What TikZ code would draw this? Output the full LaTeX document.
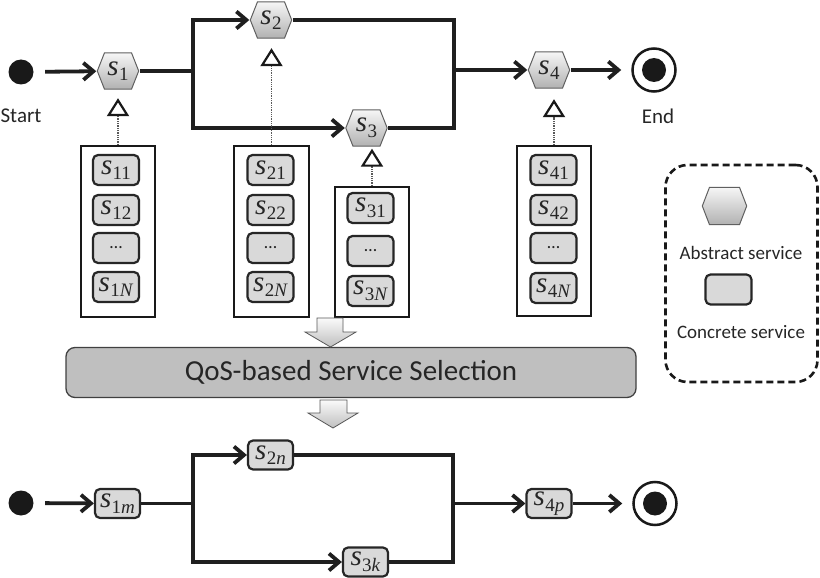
\documentclass[tikz,border=0pt]{standalone}
\usepackage{fontspec}
\setmainfont{Carlito}
\newfontfamily\svfont{Liberation Serif}
\usetikzlibrary{arrows.meta,calc}
\newcommand\sv[2]{{\svfont\fontsize{29}{30}\selectfont\itshape s}\kern0.3pt\raisebox{-5.5pt}{\svfont\fontsize{19}{20}\selectfont #1\textit{#2}}}
\begin{document}
\begin{tikzpicture}[x=1pt,y=-1pt,
  conn/.style={line width=3.8pt, draw=black!88},
  tip/.style={-{Straight Barb[length=10pt,width=17pt]}},
  genl/.style={densely dotted, line width=1.3pt, draw=black!65,
    -{Triangle[open,length=18pt,width=22pt,line width=2.2pt,color=black!90]}},
  hexa/.style={rectangle, inner sep=0pt, minimum width=43pt, minimum height=38pt,
    text=black!85,
    path picture={
      \path[top color=gray!6, bottom color=gray!62, draw=gray!75!black, line width=1pt]
        ([xshift=0.8pt]path picture bounding box.west)
        -- ([xshift=8pt,yshift=-0.8pt]path picture bounding box.north west)
        -- ([xshift=-8pt,yshift=-0.8pt]path picture bounding box.north east)
        -- ([xshift=-0.8pt]path picture bounding box.east)
        -- ([xshift=-8pt,yshift=0.8pt]path picture bounding box.south east)
        -- ([xshift=8pt,yshift=0.8pt]path picture bounding box.south west)
        -- cycle;}},
  cbox/.style={rectangle, rounded corners=5pt, fill=gray!30, draw=black!85,
    line width=2.2pt, minimum width=46pt, minimum height=30pt, inner sep=0pt,
    text=black!85},
  dots/.style={font=\fontsize{18}{20}\selectfont},
  lbox/.style={rectangle, draw=black!90, line width=2pt, fill=white, inner sep=0pt},
  dot/.style={circle, fill=black!90, minimum size=25pt, inner sep=0pt},
  endo/.style={circle, draw=black!90, fill=white, line width=2.5pt, minimum size=43pt, inner sep=0pt},
  lbl/.style={font=\fontsize{21}{24}\selectfont, text=black!85, inner sep=0pt},
  legtxt/.style={font=\fontsize{19}{22}\selectfont, text=black!85, inner sep=0pt},
  blockarrow/.style={top color=gray!4, bottom color=gray!50, draw=gray!70!black, line width=0.8pt},
]
\useasboundingbox (0,0) rectangle (820,578);

% ---------- top workflow ----------
\node[dot] (st) at (21,72) {};
\node[lbl] (stlbl) at (21,116) {Start};
\node[hexa] (s1) at (118,71) {\sv{1}{}};
\node[hexa] (s2) at (271,20) {\sv{2}{}};
\node[hexa] (s3) at (366.5,128) {\sv{3}{}};
\node[hexa] (s4) at (549,70) {\sv{4}{}};
\node[endo] (en) at (654,70) {};
\node[dot, minimum size=24pt] (enin) at (654,70) {};
\node[lbl] (enlbl) at (658,116) {End};
\coordinate (j1) at (193,71);
\coordinate (j2) at (454,70);

\draw[conn,tip,shorten <=11.5pt] (st) -- (s1);
\draw[conn] (s1) -- (j1);
\draw[conn,tip] (j1) |- (s2);
\draw[conn,tip] (j1) |- (s3);
\draw[conn] (s2) -| (j2);
\draw[conn] (s3) -| (j2);
\draw[conn,tip] (j2) -- (s4);
\draw[conn,tip,shorten >=10pt] (s4) -- (en);

% ---------- candidate lists ----------
\node[lbox, minimum width=74pt, minimum height=171pt] (b1) at (118,231.5) {};
\node[lbox, minimum width=75pt, minimum height=171pt] (b2) at (271.5,231.5) {};
\node[lbox, minimum width=74pt, minimum height=130pt] (b3) at (372,252) {};
\node[lbox, minimum width=74pt, minimum height=170pt] (b4) at (554,231) {};

\node[cbox] (c11) at (116,170) {\sv{11}{}};
\node[cbox] (c12) at (116,210) {\sv{12}{}};
\node[cbox,dots] (c1d) at (116,248) {\ldots};
\node[cbox] (c1N) at (116,287) {\sv{1}{N}};

\node[cbox] (c21) at (270.5,170) {\sv{21}{}};
\node[cbox] (c22) at (270.5,210) {\sv{22}{}};
\node[cbox,dots] (c2d) at (270.5,248) {\ldots};
\node[cbox] (c2N) at (270.5,287) {\sv{2}{N}};

\node[cbox] (c31) at (370.5,208) {\sv{31}{}};
\node[cbox,dots] (c3d) at (370.5,251) {\ldots};
\node[cbox] (c3N) at (370.5,291) {\sv{3}{N}};

\node[cbox] (c41) at (553.5,170) {\sv{41}{}};
\node[cbox] (c42) at (553.5,210) {\sv{42}{}};
\node[cbox,dots] (c4d) at (553.5,248) {\ldots};
\node[cbox] (c4N) at (553.5,288) {\sv{4}{N}};

\draw[genl,shorten >=8pt] (b1.north) -- (b1.north |- s1.south);
\draw[genl,shorten >=9pt] (b2.north) -- (b2.north |- s2.south);
\draw[genl,shorten >=1.5pt] (b3.north) -- (b3.north |- s3.south);
\draw[genl,shorten >=10pt] (b4.north) -- (b4.north |- s4.south);

% ---------- selection ----------
\node[rectangle, rounded corners=9pt, fill=gray!50, draw=black!75, line width=1.3pt,
  minimum width=570pt, minimum height=50pt, inner sep=0pt,
  font=\fontsize{29}{34}\selectfont, text=black!85] (qos) at (351,372.5) {QoS-based Service Selection};
\path[blockarrow] (317,318) -- (343,318) -- (343,332) -- (356,332) -- (330.5,347)
  -- (305,332) -- (317,332) -- cycle;
\path[blockarrow] (320,400) -- (347,400) -- (347,413) -- (358,413) -- (333,428)
  -- (308,413) -- (320,413) -- cycle;

% ---------- legend ----------
\node[rectangle, draw=black!90, line width=2.6pt, dash pattern=on 7pt off 4pt,
  rounded corners=22pt, minimum width=152pt, minimum height=217pt, inner sep=0pt] (leg) at (741.5,273.5) {};
\node[hexa, minimum width=46pt, minimum height=39pt] (lhex) at (724.5,206) {};
\node[legtxt] (labs) at (741,253) {Abstract service};
\node[cbox] (lcb) at (728.5,289.5) {};
\node[legtxt] (lcon) at (741,332) {Concrete service};

% ---------- bottom (concrete) workflow ----------
\node[dot] (st2) at (21,503) {};
\node[cbox, minimum width=45pt, minimum height=29pt] (s1m) at (117.5,503.5) {\sv{1}{m}};
\node[cbox, minimum width=45pt, minimum height=29pt] (s2n) at (270.5,455) {\sv{2}{n}};
\node[cbox, minimum width=45pt, minimum height=29pt] (s3k) at (365.5,562) {\sv{3}{k}};
\node[cbox, minimum width=45pt, minimum height=29pt] (s4p) at (549,503.5) {\sv{4}{p}};
\node[endo] (en2) at (655,503.5) {};
\node[dot, minimum size=24pt] (en2in) at (655,503.5) {};
\coordinate (j3) at (193,503.5);
\coordinate (j4) at (453,503.5);

\draw[conn,tip,shorten <=11.5pt] (st2) -- (s1m);
\draw[conn] (s1m) -- (j3);
\draw[conn,tip] (j3) |- (s2n);
\draw[conn,tip] (j3) |- (s3k);
\draw[conn] (s2n) -| (j4);
\draw[conn] (s3k) -| (j4);
\draw[conn,tip] (j4) -- (s4p);
\draw[conn,tip,shorten >=10pt] (s4p) -- (en2);
\end{tikzpicture}
\end{document}
